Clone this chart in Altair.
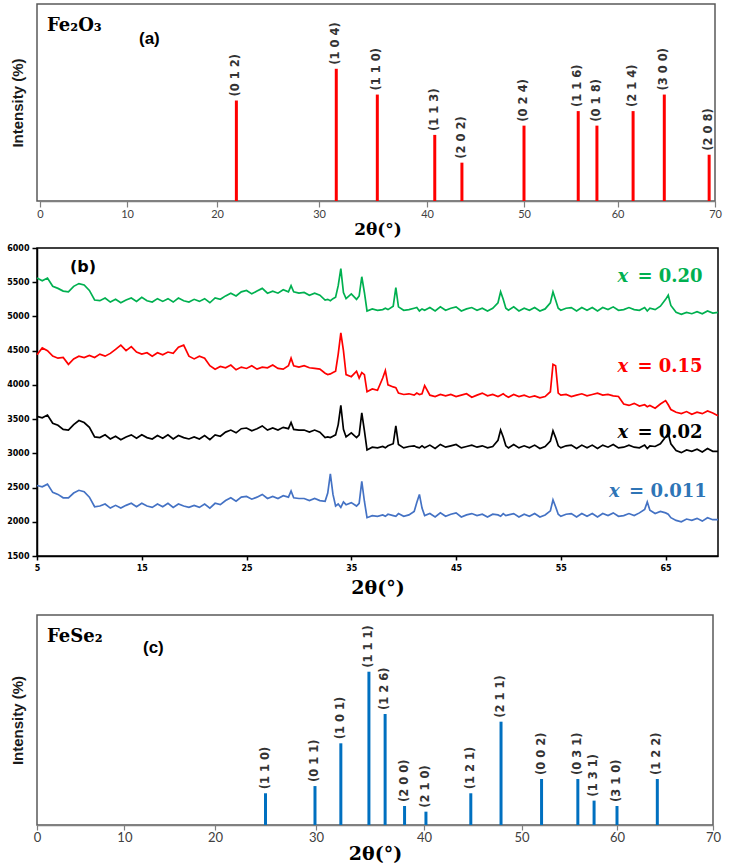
import altair as alt
import pandas as pd

# ---------------- panel (a): Fe2O3 reference pattern ----------------
a_hkl = ["(0 1 2)", "(1 0 4)", "(1 1 0)", "(1 1 3)", "(2 0 2)", "(0 2 4)",
         "(1 1 6)", "(0 1 8)", "(2 1 4)", "(3 0 0)", "(2 0 8)"]
a_theta = [21.9, 31.6, 35.4, 40.8, 43.6, 50.0, 55.8, 57.8, 61.6, 64.8, 69.4]
a_int = [76, 100, 80.5, 50, 29, 57, 68, 57, 68, 80.5, 35]
a_ticks = [0, 10, 20, 30, 40, 50, 60, 70]

# ---------------- panel (b): measured XRD patterns ----------------
b_theta = [
    5.0, 5.5, 6.0, 6.5, 7.0, 7.5, 8.0, 8.5, 9.0, 9.5,
    10.0, 10.5, 11.0, 11.5, 12.0, 12.5, 13.0, 13.5, 14.0, 14.5,
    15.0, 15.5, 16.0, 16.5, 17.0, 17.5, 18.0, 18.5, 19.0, 19.5,
    20.0, 20.5, 21.0, 21.5, 22.0, 22.5, 23.0, 23.5, 24.0, 24.5,
    25.0, 25.5, 26.0, 26.5, 27.0, 27.5, 28.0, 28.5, 29.0, 29.25,
    29.5, 30.0, 30.5, 31.0, 31.5, 32.0, 32.5, 32.75, 33.0, 33.25,
    33.5, 33.75, 34.0, 34.25, 34.5, 35.0, 35.5, 35.75, 36.0, 36.25,
    36.5, 37.0, 37.5, 38.0, 38.25, 38.5, 39.0, 39.25, 39.5, 40.0,
    40.5, 41.0, 41.25, 41.5, 41.75, 42.0, 42.5, 43.0, 43.5, 44.0,
    44.5, 45.0, 45.5, 46.0, 46.5, 47.0, 47.5, 48.0, 48.5, 49.0,
    49.25, 49.5, 49.75, 50.0, 50.5, 51.0, 51.5, 52.0, 52.5, 53.0,
    53.5, 54.0, 54.25, 54.5, 54.75, 55.0, 55.5, 56.0, 56.5, 57.0,
    57.5, 58.0, 58.5, 59.0, 59.5, 60.0, 60.5, 61.0, 61.5, 62.0,
    62.5, 63.0, 63.25, 63.5, 64.0, 64.5, 65.0, 65.25, 65.5, 66.0,
    66.5, 67.0, 67.5, 68.0, 68.5, 69.0, 69.5, 70.0,
]
b_x020 = [
    5560, 5520, 5560, 5440, 5410, 5370, 5360, 5440, 5480, 5460,
    5380, 5240, 5230, 5270, 5210, 5250, 5200, 5240, 5270, 5220,
    5280, 5230, 5210, 5260, 5220, 5260, 5210, 5270, 5230, 5210,
    5250, 5220, 5260, 5200, 5270, 5250, 5300, 5340, 5300, 5360,
    5380, 5330, 5370, 5410, 5340, 5370, 5340, 5390, 5360, 5450,
    5360, 5340, 5350, 5310, 5340, 5310, 5240, 5250, 5230, 5260,
    5280, 5450, 5700, 5350, 5260, 5330, 5250, 5300, 5580, 5350,
    5080, 5110, 5090, 5100, 5120, 5100, 5150, 5420, 5140, 5090,
    5100, 5120, 5130, 5080, 5110, 5090, 5130, 5080, 5140, 5090,
    5120, 5140, 5080, 5110, 5130, 5090, 5120, 5080, 5120, 5200,
    5360, 5250, 5120, 5090, 5140, 5080, 5120, 5090, 5130, 5080,
    5110, 5200, 5360, 5240, 5120, 5090, 5120, 5130, 5080, 5130,
    5090, 5130, 5080, 5130, 5100, 5140, 5090, 5100, 5130, 5100,
    5090, 5130, 5080, 5120, 5100, 5150, 5250, 5310, 5160, 5060,
    5030, 5060, 5040, 5070, 5040, 5080, 5050, 5060,
]
b_x015 = [
    4440, 4540, 4500, 4420, 4390, 4400, 4300, 4380, 4420, 4400,
    4430, 4400, 4450, 4420, 4460, 4520, 4580, 4500, 4560, 4480,
    4450, 4470, 4420, 4470, 4440, 4480, 4460, 4550, 4580, 4420,
    4380, 4420, 4390, 4280, 4230, 4270, 4250, 4290, 4220, 4260,
    4240, 4280, 4230, 4260, 4250, 4290, 4240, 4230, 4280, 4390,
    4280, 4260, 4280, 4250, 4240, 4230, 4170, 4150, 4160, 4180,
    4200, 4450, 4760, 4500, 4150, 4120, 4200, 4100, 4180, 4150,
    3900, 3940, 3920, 4100, 4210, 4000, 3970, 3960, 3880, 3860,
    3870, 3850, 3880, 3860, 3870, 3990, 3850, 3830, 3860, 3840,
    3860, 3830, 3850, 3870, 3820, 3850, 3880, 3840, 3860, 3830,
    3850, 3870, 3840, 3820, 3860, 3830, 3850, 3820, 3840, 3810,
    3830, 3900, 4300, 4280, 3880, 3850, 3860, 3830, 3850, 3870,
    3840, 3860, 3880, 3850, 3860, 3840, 3830, 3720, 3700, 3730,
    3690, 3710, 3680, 3700, 3660, 3720, 3770, 3710, 3640, 3600,
    3580, 3610, 3570, 3600, 3580, 3620, 3590, 3550,
]
b_x002 = [
    3540, 3520, 3560, 3440, 3410, 3350, 3340, 3420, 3480, 3450,
    3380, 3240, 3230, 3270, 3210, 3250, 3200, 3240, 3270, 3220,
    3270, 3230, 3210, 3260, 3220, 3270, 3210, 3260, 3230, 3210,
    3240, 3210, 3260, 3200, 3270, 3250, 3310, 3340, 3300, 3360,
    3370, 3330, 3360, 3400, 3340, 3370, 3340, 3380, 3360, 3450,
    3350, 3340, 3340, 3310, 3340, 3310, 3230, 3240, 3230, 3250,
    3270, 3420, 3700, 3350, 3240, 3300, 3230, 3270, 3590, 3330,
    3050, 3090, 3080, 3100, 3080, 3110, 3140, 3400, 3130, 3080,
    3100, 3110, 3090, 3080, 3110, 3080, 3120, 3070, 3130, 3090,
    3110, 3130, 3080, 3100, 3120, 3090, 3110, 3080, 3100, 3190,
    3340, 3240, 3110, 3080, 3130, 3080, 3110, 3080, 3120, 3070,
    3100, 3180, 3330, 3230, 3110, 3080, 3110, 3120, 3070, 3120,
    3080, 3120, 3070, 3120, 3090, 3130, 3080, 3090, 3120, 3090,
    3080, 3120, 3070, 3110, 3100, 3140, 3240, 3290, 3140, 3040,
    3010, 3050, 3030, 3060, 3020, 3070, 3030, 3030,
]
b_x0011 = [
    2530, 2510, 2550, 2430, 2400, 2350, 2350, 2420, 2460, 2440,
    2360, 2220, 2230, 2260, 2200, 2240, 2200, 2240, 2270, 2220,
    2270, 2230, 2210, 2260, 2220, 2270, 2210, 2260, 2230, 2210,
    2240, 2210, 2260, 2200, 2270, 2250, 2310, 2350, 2300, 2360,
    2370, 2330, 2360, 2400, 2340, 2370, 2340, 2380, 2360, 2450,
    2350, 2340, 2340, 2310, 2340, 2310, 2300, 2420, 2700, 2400,
    2230, 2260, 2210, 2290, 2250, 2280, 2230, 2270, 2590, 2300,
    2060, 2090, 2080, 2100, 2080, 2110, 2090, 2080, 2120, 2080,
    2100, 2150, 2280, 2400, 2200, 2090, 2120, 2070, 2130, 2080,
    2110, 2130, 2070, 2100, 2120, 2090, 2110, 2070, 2110, 2100,
    2080, 2120, 2090, 2100, 2120, 2070, 2110, 2080, 2120, 2070,
    2100, 2160, 2320, 2220, 2110, 2080, 2110, 2120, 2070, 2120,
    2080, 2120, 2070, 2120, 2090, 2130, 2080, 2090, 2120, 2090,
    2130, 2180, 2290, 2170, 2120, 2150, 2130, 2110, 2060, 2020,
    2000, 2040, 2020, 2050, 2010, 2060, 2030, 2030,
]
b_names = ["x = 0.20", "x = 0.15", "x = 0.02", "x = 0.011"]
b_line_colors = ["#00b050", "#ff0000", "#000000", "#4472c4"]
b_label_colors = ["#00b050", "#ff0000", "#000000", "#2e75b6"]
b_label_num = ["= 0.20", "= 0.15", "= 0.02", "= 0.011"]
b_label_theta = [60.4, 60.4, 60.4, 59.6]
b_label_int = [5570, 4265, 3293, 2441]
b_xticks = [5, 15, 25, 35, 45, 55, 65]
b_yticks = [1500, 2000, 2500, 3000, 3500, 4000, 4500, 5000, 5500, 6000]

# ---------------- panel (c): FeSe2 reference pattern ----------------
c_hkl = ["(1 1 0)", "(0 1 1)", "(1 0 1)", "(1 1 1)", "(1 2 6)", "(2 0 0)", "(2 1 0)",
         "(1 2 1)", "(2 1 1)", "(0 0 2)", "(0 3 1)", "(1 3 1)", "(3 1 0)", "(1 2 2)"]
c_theta = [25.0, 29.9, 32.3, 34.9, 36.4, 38.2, 40.2, 44.8, 47.9, 52.1, 55.9, 57.6, 60.0, 64.2]
c_int = [20.7, 25.4, 53.3, 100, 72.4, 12.4, 8.7, 20.7, 67.4, 30, 30, 15.9, 12.4, 30]

# ---------------- tables ----------------
dfa = pd.DataFrame({"theta": a_theta, "inten": a_int, "hkl": a_hkl})
dfc = pd.DataFrame({"theta": c_theta, "inten": c_int, "hkl": c_hkl})

rows = []
for name, col, vals in zip(b_names, b_line_colors, [b_x020, b_x015, b_x002, b_x0011]):
    assert len(vals) == len(b_theta), name
    for t, v in zip(b_theta, vals):
        rows.append({"series": name, "lc": col, "theta": t, "inten": v})
dfb = pd.DataFrame(rows)
dfl = pd.DataFrame({"series": b_names, "lc": b_label_colors, "num": b_label_num,
                    "theta": b_label_theta, "inten": b_label_int, "xx": ["x"] * 4})

SERIF = "DejaVu Serif"
BOLDSANS = "Liberation Sans"


def stick_panel(df, color, ymax, width, height, xrange, formula, tag, tag_x, tag_y,
                label_size, title_size, tick_size, title_pad):
    xax = alt.Axis(values=a_ticks, title="2θ(°)",
                   titleFont=SERIF, titleFontWeight="bold", titleFontSize=title_size,
                   titleColor="#000000", titlePadding=title_pad,
                   labelFont="Lato", labelFontSize=label_size, labelColor="#404040",
                   labelPadding=1, labelFlush=False, labelOverlap=False,
                   tickColor="#7f7f7f", tickSize=tick_size, tickWidth=1.2,
                   domainColor="#7f7f7f", domainWidth=1.5, grid=False)
    yax = alt.Axis(title="Intensity (%)", labels=False, ticks=False, domain=False, grid=False,
                   titleFont=BOLDSANS, titleFontWeight="bold", titleFontSize=15,
                   titleColor="#1a1a1a", titlePadding=12)
    xs = alt.Scale(domain=a_ticks, range=xrange, nice=False, zero=False)
    ys = alt.Scale(domain=[0, ymax], nice=False)
    xenc = alt.X("theta:Q", scale=xs, axis=xax)
    yenc = alt.Y("inten:Q", scale=ys, axis=yax)
    sticks = alt.Chart(df).mark_rule(color=color, strokeWidth=3).encode(
        x=xenc, y=yenc, y2=alt.datum(0))
    labels = alt.Chart(df).mark_text(angle=270, align="left", baseline="middle", dx=4,
                                     font="DejaVu Sans", fontSize=11.5, fontWeight="bold",
                                     color="#333333").encode(x=xenc, y=yenc, text="hkl:N")
    f = alt.Chart(pd.DataFrame({"t": [formula]})).mark_text(
        font=SERIF, fontWeight="bold", fontSize=18, align="left", baseline="alphabetic",
        color="#000000").encode(x=alt.value(10), y=alt.value(27), text="t:N")
    g = alt.Chart(pd.DataFrame({"t": [tag]})).mark_text(
        font=BOLDSANS, fontWeight="bold", fontSize=17, align="left", baseline="alphabetic",
        color="#000000").encode(x=alt.value(tag_x), y=alt.value(tag_y), text="t:N")
    return alt.layer(sticks, labels, f, g).properties(
        width=width, height=height,
        view=alt.ViewBackground(stroke="#595959", strokeWidth=1.5))


panel_a = stick_panel(dfa, "#ff0000", 149, 678, 197,
                      [3, 90, 180, 282, 390, 487, 580.5, 678],
                      "Fe₂O₃", "(a)", 102, 40, 11, 17, 6, 2)
panel_c = stick_panel(dfc, "#0070c0", 137, 676, 210,
                      [0, 87.4, 178, 279, 387, 484.5, 580, 676],
                      "FeSe₂", "(c)", 106, 38, 13, 19, 5, 0)

# panel (b)
bx = alt.X("theta:Q", scale=alt.Scale(domain=[5, 70], nice=False, zero=False),
           axis=alt.Axis(values=b_xticks, title="2θ(°)",
                         titleFont=SERIF, titleFontWeight="bold", titleFontSize=19,
                         titleColor="#000000", titlePadding=6,
                         labelFont="DejaVu Sans", labelFontWeight="bold", labelFontSize=8,
                         labelColor="#000000", labelPadding=4, labelFlush=False,
                         labelOverlap=False,
                         tickColor="#000000", tickSize=4, tickWidth=1.5,
                         domainColor="#000000", domainWidth=1.5, grid=False))
by = alt.Y("inten:Q", scale=alt.Scale(domain=[1500, 6000], nice=False, zero=False),
           axis=alt.Axis(values=b_yticks, format="d", labelOverlap=False,
                         title=None, labelFont="DejaVu Sans", labelFontWeight="bold",
                         labelFontSize=8, labelColor="#000000", labelPadding=3,
                         labelFlush=False,
                         tickColor="#000000", tickSize=5, tickWidth=1.5,
                         domainColor="#000000", domainWidth=1.5, grid=False))
lines = alt.Chart(dfb).mark_line(strokeWidth=1.7).encode(
    x=bx, y=by, color=alt.Color("lc:N", scale=None), detail="series:N")
lab_x = alt.Chart(dfl).mark_text(font=SERIF, fontWeight="bold", fontStyle="italic",
                                 fontSize=18, align="left", baseline="middle").encode(
    x=bx, y=by, text="xx:N", color=alt.Color("lc:N", scale=None))
lab_n = alt.Chart(dfl).mark_text(font=SERIF, fontWeight="bold", fontSize=18,
                                 align="left", baseline="middle", dx=20).encode(
    x=bx, y=by, text="num:N", color=alt.Color("lc:N", scale=None))
tag_b = alt.Chart(pd.DataFrame({"t": ["(b)"]})).mark_text(
    font="DejaVu Sans", fontWeight="bold", fontSize=16, align="left", baseline="alphabetic",
    color="#000000").encode(x=alt.value(33), y=alt.value(24), text="t:N")
panel_b = alt.layer(lines, lab_x, lab_n, tag_b).properties(
    width=681, height=308,
    view=alt.ViewBackground(stroke="#000000", strokeWidth=1.5))

chart = alt.vconcat(
    panel_a,
    alt.vconcat(panel_b, panel_c, spacing=16),
    spacing=5,
).properties(padding={"left": 5, "top": 3, "right": 5, "bottom": 0}
).configure(background="#ffffff")

chart.save("out.html", embed_options={"renderer": "svg", "actions": False})
